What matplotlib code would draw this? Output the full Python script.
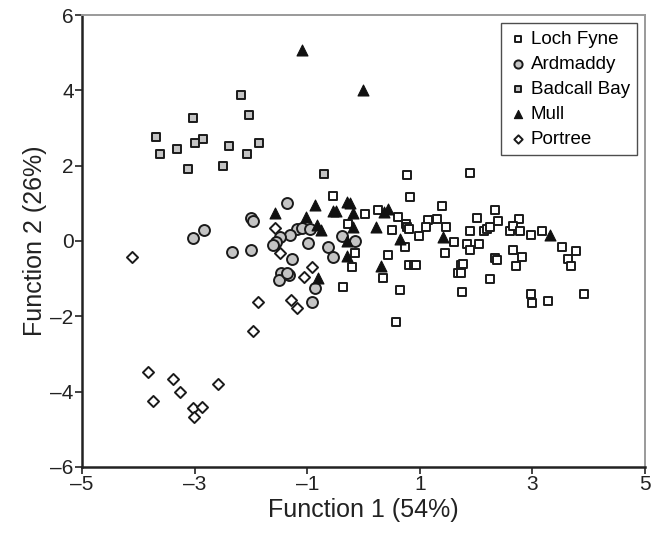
import matplotlib
matplotlib.use("Agg")
import matplotlib.pyplot as plt

plt.rcParams['font.family'] = ['Liberation Sans', 'DejaVu Sans']

# ---- data ----
loch_x = [0.78, 1.90, 0.83, 1.40, 2.33, 2.77, 0.03, 0.25, 0.62, 0.75, 0.77, 0.80, 1.15, 1.11, 1.31, 1.47,
          0.98, 0.50, 1.61, 0.73, 0.44, 1.44, 1.84, 1.89, 2.06, 1.90, 2.14, 2.19, 2.25, 2.38, 2.02, 2.60,
          2.65, 2.78, 2.98, 3.17, 3.52, 3.77, 3.63, 3.68, 2.66, 2.81, 2.71, 2.34, 2.37, 0.81, 0.89, 0.94,
          1.73, 1.76, 1.68, 1.74, 2.25, 1.75, 2.98, 3.00, 3.27, 3.92, 0.65, 0.35, -0.20, -0.15, -0.37,
          0.57, -0.27, -0.54]
loch_y = [1.75, 1.81, 1.17, 0.92, 0.82, 0.58, 0.71, 0.82, 0.64, 0.45, 0.36, 0.31, 0.56, 0.38, 0.58, 0.36,
          0.13, 0.29, -0.02, -0.16, -0.37, -0.33, -0.08, -0.24, -0.08, 0.27, 0.27, 0.31, 0.36, 0.54, 0.60, 0.27,
          0.40, 0.27, 0.17, 0.27, -0.17, -0.26, -0.48, -0.66, -0.24, -0.42, -0.66, -0.46, -0.50, -0.64, -0.64, -0.64,
          -0.64, -0.62, -0.86, -0.86, -1.01, -1.35, -1.41, -1.64, -1.60, -1.41, -1.29, -0.98, -0.70, -0.33, -1.23,
          -2.16, 0.46, 1.19]

ard_x = [-1.35, -2.00, -1.96, -2.83, -3.03, -2.33, -2.00, -1.18, -1.10, -0.95, -1.31, -1.48, -1.55, -1.60,
         -0.98, -1.27, -1.46, -1.32, -1.50, -1.35, -0.86, -0.91, -0.63, -0.55, -0.39, -0.15]
ard_y = [1.00, 0.60, 0.54, 0.29, 0.07, -0.30, -0.24, 0.31, 0.35, 0.31, 0.16, 0.11, -0.02, -0.10,
         -0.06, -0.49, -0.84, -0.91, -1.04, -0.85, -1.26, -1.61, -0.17, -0.42, 0.14, -0.01]

bad_x = [-2.18, -3.03, -2.03, -3.68, -2.85, -2.99, -2.39, -1.85, -3.61, -3.31, -2.07, -3.12, -2.50, -0.70]
bad_y = [3.88, 3.26, 3.34, 2.76, 2.72, 2.60, 2.53, 2.60, 2.32, 2.45, 2.32, 1.91, 2.00, 1.78]

mull_x = [-1.09, -0.01, -1.57, -0.86, -1.03, -0.83, -0.76, -0.55, -0.48, -0.30, -0.24, -0.18, -0.18,
          -0.30, -0.30, -0.80, 0.22, 0.36, 0.44, 0.65, 0.31, 1.41, 3.32]
mull_y = [5.08, 4.02, 0.75, 0.95, 0.65, 0.42, 0.29, 0.80, 0.80, 1.03, 1.00, 0.73, 0.38,
          0.01, -0.40, -0.99, 0.36, 0.77, 0.86, 0.06, -0.66, 0.11, 0.16]

port_x = [-4.11, -1.57, -1.48, -0.91, -1.05, -1.88, -1.28, -1.19, -1.97,
          -3.82, -3.38, -3.26, -2.59, -3.73, -3.03, -2.86, -3.01]
port_y = [-0.43, 0.34, -0.31, -0.68, -0.96, -1.62, -1.57, -1.79, -2.40,
          -3.48, -3.66, -4.01, -3.81, -4.26, -4.43, -4.41, -4.68]

series_names = ["Loch Fyne", "Ardmaddy", "Badcall Bay", "Mull", "Portree"]
x_ticks = [-5, -3, -1, 1, 3, 5]
y_ticks = [-6, -4, -2, 0, 2, 4, 6]

# ---- figure ----
fig = plt.figure(figsize=(6.59, 5.34), dpi=100)
ax = fig.add_axes([0.1244, 0.1255, 0.8544, 0.8464])

edge = '#1a1a1a'
gray = '#c4c4c4'
lw = 1.4
ax.scatter(loch_x, loch_y, marker='s', s=38, facecolor='white', edgecolor=edge, linewidths=lw,
           label=series_names[0], zorder=3)
ax.scatter(ard_x, ard_y, marker='o', s=62, facecolor=gray, edgecolor=edge, linewidths=lw,
           label=series_names[1], zorder=3)
ax.scatter(bad_x, bad_y, marker='s', s=38, facecolor=gray, edgecolor=edge, linewidths=lw,
           label=series_names[2], zorder=3)
ax.scatter(mull_x, mull_y, marker='^', s=62, facecolor='#111111', edgecolor='#111111', linewidths=0.8,
           label=series_names[3], zorder=3)
ax.scatter(port_x, port_y, marker='D', s=32, facecolor='white', edgecolor=edge, linewidths=lw,
           label=series_names[4], zorder=3)

ax.set_xlim(-5, 5)
ax.set_ylim(-6, 6)
ax.set_xticks(x_ticks)
ax.set_yticks(y_ticks)
ax.set_xticklabels([str(v).replace('-', '\u2013') for v in x_ticks])
ax.set_yticklabels([str(v).replace('-', '\u2013') for v in y_ticks])
ax.tick_params(axis='both', direction='out', length=5, width=1.2, labelsize=15, colors='#222222', pad=1)

for side in ['left', 'bottom']:
    ax.spines[side].set_color('#222222')
    ax.spines[side].set_linewidth(1.8)
for side in ['top', 'right']:
    ax.spines[side].set_color('#9a9a9a')
    ax.spines[side].set_linewidth(1.4)

ax.set_xlabel("Function 1 (54%)", fontsize=18, color='#222222', labelpad=3)
ax.set_ylabel("Function 2 (26%)", fontsize=18, color='#222222', labelpad=2)

leg = ax.legend(loc='upper right', bbox_to_anchor=(0.986, 0.982), fontsize=13.5, frameon=True,
                fancybox=False, edgecolor='#222222', markerscale=0.75, handletextpad=0.1,
                handlelength=1.1, borderpad=0.4, labelspacing=0.42, borderaxespad=0.0)
leg.get_frame().set_linewidth(1.0)

fig.savefig("out.png", dpi=100)
